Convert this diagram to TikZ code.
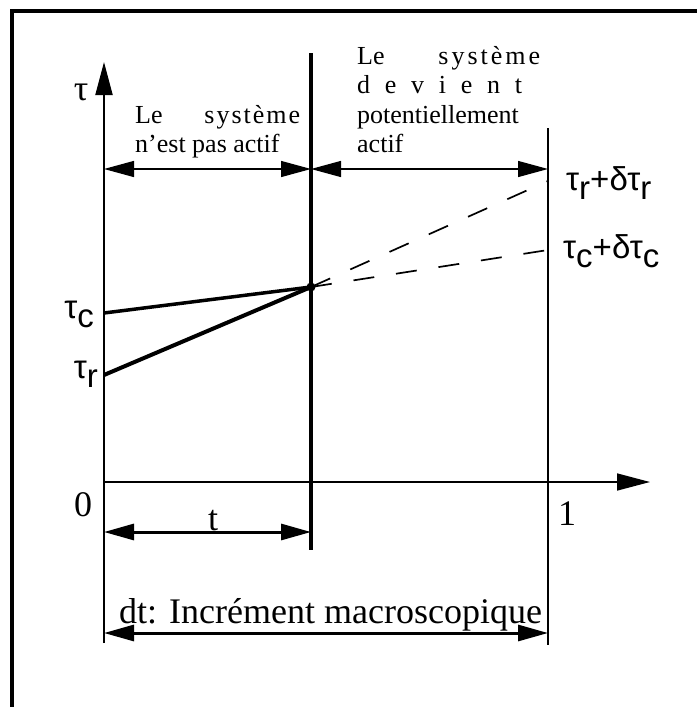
\documentclass[tikz,border=0pt]{standalone}
\usepackage{fontspec}
\setmainfont{Liberation Serif}
\newfontfamily\labfont{Liberation Sans}
\usetikzlibrary{arrows.meta}

\newcommand{\tsub}[1]{τ\raisebox{-9pt}{#1}}

\tikzset{
  bighead/.style={-{Triangle[length=33pt,width=17pt]}},
  dimarrow/.style={{Triangle[length=30pt,width=16pt]}-{Triangle[length=30pt,width=16pt]}},
  dashline/.style={line width=1.7pt,dash pattern=on 21pt off 22pt},
  smalltxt/.style={font=\fontsize{26}{29}\selectfont,inner sep=0pt},
  bigtxt/.style={font=\fontsize{36}{40}\selectfont,inner sep=0pt},
  taulab/.style={font=\labfont\fontsize{33}{33}\selectfont,inner sep=0pt},
}

\begin{document}
\begin{tikzpicture}[x=1pt,y=-1pt]
\useasboundingbox (0,0) rectangle (697,707);
% cadre
\draw[line width=3.5pt] (12,707) -- (12,11) -- (697,11);

% points
\coordinate (Ybot) at (104,643);
\coordinate (Ytop) at (104,62);
\coordinate (O) at (104,482);
\coordinate (Xend) at (650,482);
\coordinate (Mtop) at (311,53);
\coordinate (Mbot) at (311,550);
\coordinate (Rtop) at (548,128);
\coordinate (Rbot) at (548,645);
\coordinate (Tc) at (104,313);
\coordinate (Tr) at (104,375);
\coordinate (J) at (311,287);
\coordinate (Rr) at (548,181);
\coordinate (Rc) at (548,250);

% axes
\draw[line width=2pt,bighead] (Ybot) -- (Ytop);
\draw[line width=1.6pt,bighead] (O) -- (Xend);
\draw[line width=3.5pt] (Mtop) -- (Mbot);
\draw[line width=2pt] (Rtop) -- (Rbot);

% fleches de cotes
\coordinate (A1) at (104,169);
\coordinate (A2) at (311,169);
\coordinate (A3) at (548,169);
\draw[line width=1.3pt,dimarrow] (A1) -- (A2);
\draw[line width=1.3pt,dimarrow] (A2) -- (A3);
\coordinate (B1) at (104,532);
\coordinate (B2) at (311,532);
\draw[line width=3pt,dimarrow] (B1) -- (B2);
\coordinate (C1) at (104,633);
\coordinate (C2) at (548,633);
\draw[line width=3pt,dimarrow] (C1) -- (C2);

% seuils
\draw[line width=3.5pt] (Tc) -- (J);
\draw[line width=4pt] (Tr) -- (J);
\fill (J) circle (4.5pt);
\draw[dashline] (J) -- (Rr);
\draw[dashline] (J) -- (Rc);

% textes
\node[font=\fontsize{36}{36}\selectfont,inner sep=0pt] (tau) at (81,92) {τ};
\node[smalltxt,anchor=base west] (g1) at (135,123)
  {\makebox[165pt][s]{Le s\kern2pt y\kern2pt s\kern2pt t\kern2pt è\kern2pt m\kern2pt e}};
\node[smalltxt,anchor=base west] (g2) at (135,152) {n'est pas actif};
\node[smalltxt,anchor=base west] (d1) at (357,64)
  {\makebox[183pt][s]{Le s\kern3pt y\kern3pt s\kern3pt t\kern3pt è\kern3pt m\kern3pt e}};
\node[smalltxt,anchor=base west] (d2) at (357,93) {\makebox[165pt][s]{d e v i e n t}};
\node[smalltxt,anchor=base west] (d3) at (357,123) {potentiellement};
\node[smalltxt,anchor=base west] (d4) at (357,152) {actif};

\node[taulab,anchor=base east] (lc) at (94,318) {\tsub{c}};
\node[taulab,anchor=base east] (lr) at (98,378) {\tsub{r}};
\node[taulab,anchor=base west] (lrr) at (566,190) {\tsub{r}+δ\tsub{r}};
\node[taulab,anchor=base west] (lcc) at (563,258) {\tsub{c}+δ\tsub{c}};

\node[bigtxt] (zero) at (83,505) {0};
\node[bigtxt] (one) at (567,514) {1};
\node[bigtxt,anchor=base] (t) at (213,530) {t};
\node[bigtxt,anchor=base west] (dt) at (119,623) {dt: Incrément macroscopique};
\end{tikzpicture}
\end{document}
